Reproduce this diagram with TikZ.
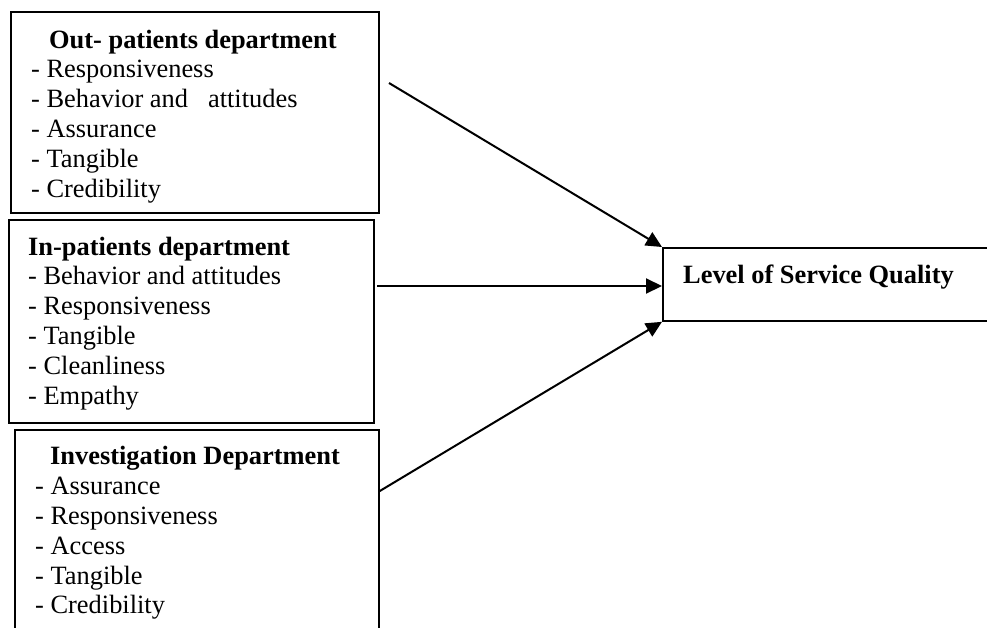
\documentclass[tikz,border=0pt]{standalone}
\usepackage{fontspec}
\setmainfont{Liberation Serif}
\usetikzlibrary{arrows.meta}
\begin{document}
\begin{tikzpicture}[x=1pt,y=-1pt,
  box/.style={draw, line width=1.8pt, rectangle, anchor=north west, inner sep=0pt},
  txt/.style={anchor=base west, inner sep=0pt, font=\fontsize{26.4}{29.8}\selectfont},
  ttl/.style={txt, font=\fontsize{26.4}{29.8}\selectfont\bfseries},
  arr/.style={line width=2pt, -{Triangle[length=16pt,width=15pt]}}]
\useasboundingbox (0,0) rectangle (987,627);
\clip (0,0) rectangle (987,627);
% boxes
\node[box, minimum width=368pt, minimum height=201pt] (op) at (10,11) {};
\node[box, minimum width=365pt, minimum height=203pt] (ip) at (8,219) {};
\node[box, minimum width=364pt, minimum height=260pt] (iv) at (14,429) {};
\node[box, minimum width=400pt, minimum height=73pt] (lsq) at (662,247) {};
% out-patients
\node[ttl] (opt) at (49,48) {Out- patients department};
\node[txt] (op1) at (31,77) {- Responsiveness};
\node[txt] (op2) at (31,107) {- Behavior and\hspace{20pt}attitudes};
\node[txt] (op3) at (31,137) {- Assurance};
\node[txt] (op4) at (31,167) {- Tangible};
\node[txt] (op5) at (31,197) {- Credibility};
% in-patients
\node[ttl] (ipt) at (28,255) {In-patients department};
\node[txt] (ip1) at (28,284) {- Behavior and attitudes};
\node[txt] (ip2) at (28,314) {- Responsiveness};
\node[txt] (ip3) at (28,344) {- Tangible};
\node[txt] (ip4) at (28,374) {- Cleanliness};
\node[txt] (ip5) at (28,404) {- Empathy};
% investigation
\node[ttl] (ivt) at (50,464) {Investigation Department};
\node[txt] (iv1) at (35,494) {- Assurance};
\node[txt] (iv2) at (35,524) {- Responsiveness};
\node[txt] (iv3) at (35,554) {- Access};
\node[txt] (iv4) at (35,584) {- Tangible};
\node[txt] (iv5) at (35,613) {- Credibility};
% level of service quality
\node[ttl] (lsqt) at (683,283) {Level of Service Quality};
% connectors
\coordinate (s1) at (389,83);
\coordinate (s2) at (377,286);
\coordinate (s3) at (iv.east |- 0,491);
\draw[arr] (s1) -- (lsq.north west);
\draw[arr] (s2) -- (lsq.west |- s2);
\draw[arr] (s3) -- (lsq.south west);
\end{tikzpicture}
\end{document}
